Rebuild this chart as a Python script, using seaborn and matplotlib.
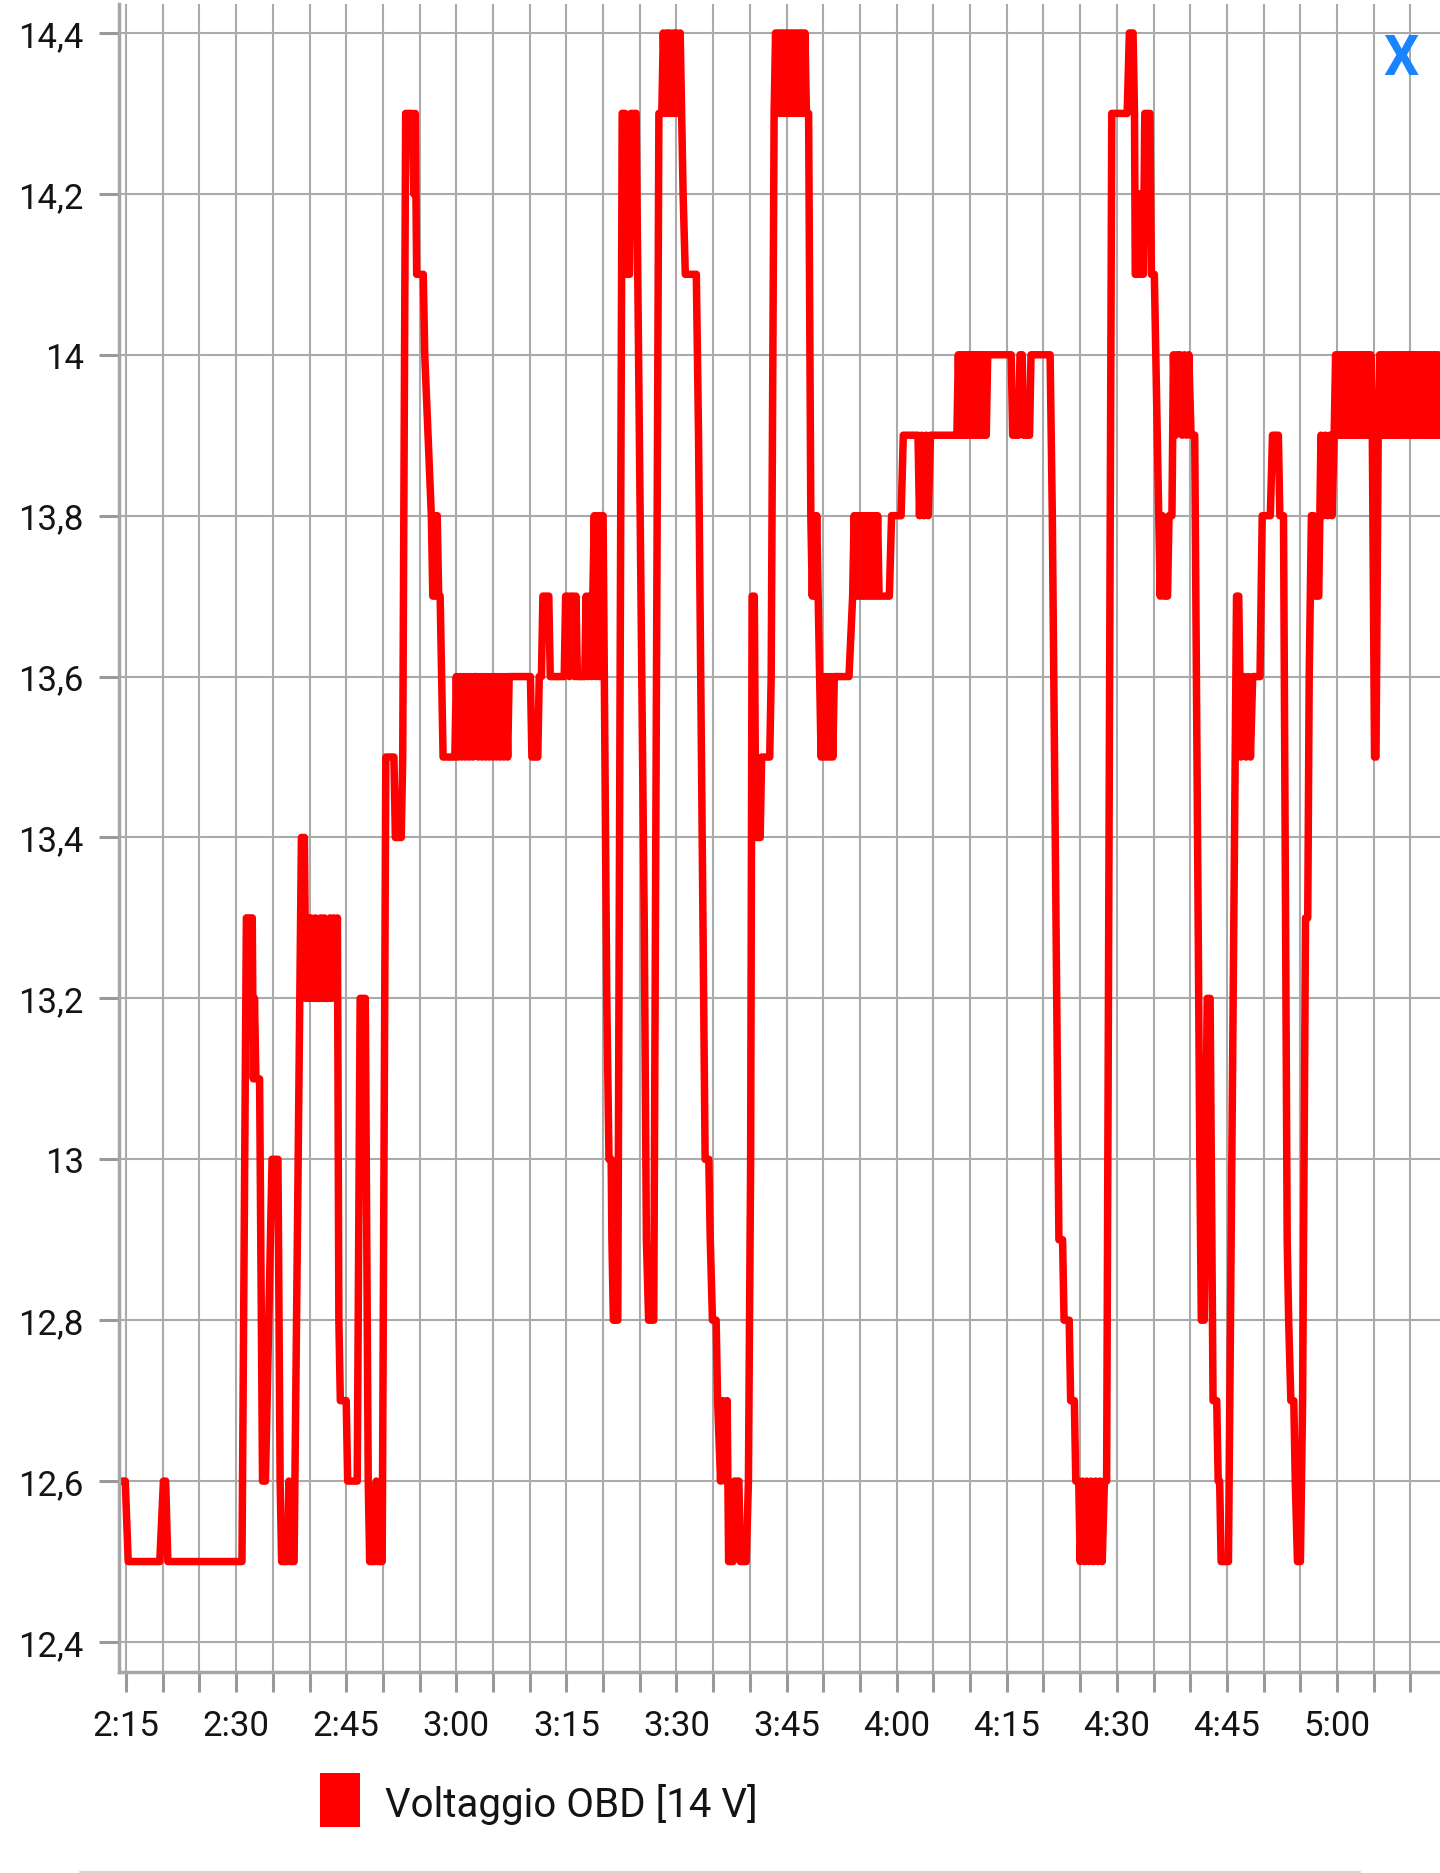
import numpy as np
import pandas as pd
import matplotlib
matplotlib.use("Agg")
import matplotlib.pyplot as plt
import matplotlib.dates as mdates
import matplotlib.ticker as ticker
from matplotlib.patches import Rectangle
import seaborn as sns

# OBD voltage log, minutes after 2:15 and volts
t_a = [-0.6, -0.1, 0.3, 4.6, 5.1, 5.4, 5.7, 15.8]
v_a = [12.6, 12.6, 12.5, 12.5, 12.6, 12.6, 12.5, 12.5]

t_b = [16.4, 17.2, 17.35, 17.5, 17.7, 18.2, 18.6, 19.0, 19.9, 20.7,
       21.0, 21.2, 22.0, 22.2, 22.4, 22.9, 23.9, 24.3, 24.5, 24.8,
       25.0, 25.2, 25.5, 25.8, 26.0, 26.3, 26.5, 26.8, 27.0, 27.2,
       27.5, 27.8, 28.0, 28.3, 28.6, 28.8, 29.0, 29.2, 30.0, 30.2,
       31.5, 31.9, 32.6, 33.0, 33.2, 33.9, 34.1, 34.3, 34.9]
v_b = [13.3, 13.3, 13.1, 13.2, 13.1, 13.1, 12.6, 12.6, 13.0, 13.0,
       12.6, 12.5, 12.5, 12.6, 12.5, 12.5, 13.4, 13.4, 13.2, 13.3,
       13.2, 13.3, 13.2, 13.3, 13.2, 13.2, 13.3, 13.2, 13.3, 13.2,
       13.2, 13.3, 13.2, 13.3, 13.2, 13.3, 12.8, 12.7, 12.7, 12.6,
       12.6, 13.2, 13.2, 12.6, 12.5, 12.5, 12.6, 12.5, 12.5]

t_c = [35.4, 36.5, 36.7, 37.5, 37.7, 38.1, 39.0, 39.2, 39.4, 39.6,
       40.5, 40.7, 41.6, 41.8, 42.0, 42.2, 42.4, 42.6, 42.8, 43.0,
       43.2, 44.8]
v_c = [13.5, 13.5, 13.4, 13.4, 13.5, 14.3, 14.3, 14.2, 14.3, 14.1,
       14.1, 14.0, 13.8, 13.7, 13.8, 13.7, 13.8, 13.7, 13.7, 13.6,
       13.5, 13.5]

t_d = [45.0, 45.25, 45.5, 45.75, 46.0, 46.25, 46.5, 46.75, 47.0, 47.25,
       47.5, 47.75, 48.0, 48.25, 48.5, 48.75, 49.0, 49.25, 49.5, 49.75,
       50.0, 50.25, 50.5, 50.75, 51.0, 51.25, 51.5, 51.75, 52.0, 52.2,
       52.4, 55.1, 55.3, 56.1, 56.3, 56.6, 56.8, 57.6, 57.8, 59.7,
       59.9, 60.2, 60.4, 60.6, 60.9, 61.1, 61.3, 61.5, 62.5, 62.7,
       62.9, 63.1, 63.4, 63.6, 63.8, 64.0, 64.2, 64.5, 64.7, 65.0]
v_d = [13.6, 13.5, 13.6, 13.5, 13.6, 13.5, 13.6, 13.5, 13.6, 13.5,
       13.6, 13.6, 13.5, 13.6, 13.5, 13.6, 13.5, 13.6, 13.5, 13.6,
       13.5, 13.6, 13.5, 13.6, 13.5, 13.6, 13.5, 13.6, 13.5, 13.6,
       13.6, 13.6, 13.5, 13.5, 13.6, 13.6, 13.7, 13.7, 13.6, 13.6,
       13.7, 13.7, 13.6, 13.7, 13.7, 13.6, 13.7, 13.6, 13.6, 13.7,
       13.6, 13.7, 13.6, 13.7, 13.8, 13.6, 13.8, 13.6, 13.8, 13.8]

t_e = [65.5, 65.8, 66.1, 66.2, 66.4, 67.0, 67.6, 68.0, 68.2, 68.6,
       68.8, 69.5, 70.6, 70.9, 71.2, 71.9, 72.6, 73.0, 73.2, 73.5,
       73.7, 73.9, 74.1, 74.3, 74.6, 74.8, 75.0, 75.3, 75.5, 75.7,
       75.9, 76.2, 77.7, 78.0, 78.9, 79.4, 79.6, 79.9, 80.4, 80.6,
       81.0, 81.3, 81.6, 81.9, 82.1, 82.7, 82.9, 83.5, 83.7, 84.5,
       84.8, 85.1, 85.3, 85.6, 85.8, 86.4, 86.6, 87.7, 87.9, 88.3]
v_e = [13.2, 13.0, 13.0, 12.9, 12.8, 12.8, 14.3, 14.3, 14.1, 14.1,
       14.3, 14.3, 13.3, 12.9, 12.8, 12.8, 14.3, 14.3, 14.4, 14.3,
       14.4, 14.3, 14.4, 14.3, 14.4, 14.3, 14.4, 14.3, 14.4, 14.3,
       14.2, 14.1, 14.1, 13.9, 13.0, 13.0, 12.9, 12.8, 12.8, 12.7,
       12.6, 12.7, 12.6, 12.7, 12.5, 12.5, 12.6, 12.6, 12.5, 12.5,
       12.6, 13.0, 13.7, 13.7, 13.4, 13.4, 13.5, 13.5, 13.6, 14.3]

t_f = [88.5, 88.7, 88.9, 89.1, 89.3, 89.5, 89.7, 89.9, 90.1, 90.3,
       90.5, 90.7, 90.9, 91.1, 91.3, 91.5, 91.7, 91.9, 92.1, 92.3,
       92.5, 92.7, 93.0, 93.3, 93.5, 93.7, 93.9, 94.1, 94.3, 94.5,
       94.7, 94.9, 95.1, 95.3, 95.5, 95.7, 95.9, 96.1, 96.3, 96.5,
       98.5, 99.0, 99.2, 99.4, 99.6, 99.8, 100.0, 100.2, 100.4, 100.6,
       100.8, 101.0, 101.2, 101.4, 101.6, 101.8, 102.0, 102.2, 102.4, 102.6,
       104.0, 104.3, 105.6, 105.9, 107.9, 108.1, 108.4, 108.7, 109.0, 109.3,
       109.6]
v_f = [14.4, 14.3, 14.4, 14.3, 14.4, 14.3, 14.4, 14.3, 14.4, 14.3,
       14.4, 14.3, 14.4, 14.3, 14.4, 14.3, 14.4, 14.3, 14.4, 14.3,
       14.4, 14.3, 14.3, 13.8, 13.7, 13.8, 13.7, 13.8, 13.7, 13.6,
       13.5, 13.6, 13.5, 13.6, 13.5, 13.6, 13.5, 13.6, 13.5, 13.6,
       13.6, 13.7, 13.8, 13.7, 13.8, 13.7, 13.8, 13.7, 13.8, 13.7,
       13.8, 13.7, 13.8, 13.7, 13.8, 13.7, 13.8, 13.7, 13.8, 13.7,
       13.7, 13.8, 13.8, 13.9, 13.9, 13.8, 13.9, 13.8, 13.9, 13.8,
       13.9]

t_g = [113.2, 113.4, 113.6, 113.8, 114.0, 114.2, 114.4, 114.6, 114.8, 115.0,
       115.2, 115.4, 115.6, 115.8, 116.0, 116.2, 116.4, 116.6, 116.8, 117.0,
       117.2, 117.4, 120.6, 120.8, 121.6, 121.8, 122.1, 122.3, 123.1, 123.3,
       125.9]
v_g = [13.9, 14.0, 13.9, 14.0, 13.9, 14.0, 13.9, 14.0, 13.9, 14.0,
       13.9, 14.0, 13.9, 14.0, 13.9, 14.0, 13.9, 14.0, 13.9, 14.0,
       13.9, 14.0, 14.0, 13.9, 13.9, 14.0, 14.0, 13.9, 13.9, 14.0,
       14.0]

t_h = [126.2, 127.1, 127.6, 127.8, 128.5, 128.7, 129.2, 129.4, 129.8, 130.0,
       130.3, 130.6, 130.9, 131.2, 131.5, 131.8, 132.1, 132.4, 132.7, 133.0,
       133.3, 133.6, 134.3, 136.4, 136.7, 137.2, 137.4, 137.5, 137.9, 138.0,
       138.2, 138.4, 138.6, 138.8, 139.5, 139.7, 140.1, 140.3, 140.5, 140.7,
       140.9, 141.2, 141.4, 141.9, 142.1, 142.5, 142.7, 143.0, 143.2, 143.6,
       143.9, 144.2, 144.5, 144.8, 145.1, 145.6, 146.3, 146.5, 146.9, 147.3,
       147.7, 148.1, 148.6, 148.8, 149.0, 149.2, 150.2]
v_h = [13.8, 12.9, 12.9, 12.8, 12.8, 12.7, 12.7, 12.6, 12.6, 12.5,
       12.6, 12.5, 12.6, 12.5, 12.6, 12.5, 12.6, 12.5, 12.6, 12.5,
       12.6, 12.6, 14.3, 14.3, 14.4, 14.4, 14.3, 14.1, 14.1, 14.2,
       14.1, 14.2, 14.1, 14.3, 14.3, 14.1, 14.1, 14.0, 13.9, 13.8,
       13.7, 13.8, 13.7, 13.7, 13.8, 13.8, 14.0, 13.9, 14.0, 14.0,
       13.9, 14.0, 13.9, 14.0, 13.9, 13.9, 13.0, 12.8, 12.8, 13.2,
       13.2, 12.7, 12.7, 12.6, 12.6, 12.5, 12.5]

t_i = [151.3, 151.6, 151.9, 152.3, 152.6, 152.9, 153.2, 153.5, 154.5, 154.8,
       155.9, 156.2, 157.0, 157.2, 157.7, 158.2, 158.4, 158.7, 159.1, 159.3,
       159.6, 160.0, 160.3, 160.7, 161.0, 161.2, 161.5, 161.8, 162.0, 162.5,
       162.8, 163.1, 163.4, 163.7, 164.0, 164.3, 164.6, 164.8, 165.0, 165.2,
       165.4, 165.6, 165.8, 166.0, 166.2, 166.4, 166.6, 166.8, 167.0, 167.2,
       167.4, 167.6, 167.8, 168.0, 168.2, 168.4, 168.6, 168.8, 169.0, 169.2,
       169.4, 169.6, 169.8, 170.1, 170.3, 170.6, 170.8, 171.0, 171.2, 171.4,
       171.6, 171.8, 172.0, 172.2, 172.4, 172.6, 172.8, 173.0, 173.2, 173.4,
       173.6, 173.8, 174.0, 174.2, 174.4, 174.6, 174.8, 175.0, 175.2, 175.4,
       175.6, 175.8, 176.0, 176.2, 176.4, 176.6, 176.8, 177.0, 177.2, 177.4,
       177.6, 177.8, 178.0, 178.2, 178.4, 178.6, 178.8, 179.0, 179.2]
v_i = [13.7, 13.7, 13.5, 13.6, 13.5, 13.6, 13.5, 13.6, 13.6, 13.8,
       13.8, 13.9, 13.9, 13.8, 13.8, 12.9, 12.8, 12.7, 12.7, 12.6,
       12.5, 12.5, 12.7, 13.3, 13.3, 13.6, 13.8, 13.8, 13.7, 13.7,
       13.9, 13.8, 13.9, 13.8, 13.9, 13.8, 13.9, 14.0, 13.9, 14.0,
       13.9, 14.0, 13.9, 14.0, 13.9, 14.0, 13.9, 14.0, 13.9, 14.0,
       13.9, 14.0, 13.9, 14.0, 13.9, 14.0, 13.9, 14.0, 13.9, 14.0,
       13.9, 14.0, 13.9, 13.5, 13.5, 13.9, 14.0, 13.9, 14.0, 13.9,
       14.0, 13.9, 14.0, 13.9, 14.0, 13.9, 14.0, 13.9, 14.0, 13.9,
       14.0, 13.9, 14.0, 13.9, 14.0, 13.9, 14.0, 13.9, 14.0, 13.9,
       14.0, 13.9, 14.0, 13.9, 14.0, 13.9, 14.0, 13.9, 14.0, 13.9,
       14.0, 13.9, 14.0, 13.9, 14.0, 13.9, 14.0, 13.9, 14.0]

volt_ticks = [12.4, 12.6, 12.8, 13.0, 13.2, 13.4, 13.6, 13.8, 14.0, 14.2, 14.4]
series_label = "Voltaggio OBD [14 V]"

minutes = t_a + t_b + t_c + t_d + t_e + t_f + t_g + t_h + t_i
volts = v_a + v_b + v_c + v_d + v_e + v_f + v_g + v_h + v_i
assert len(minutes) == len(volts), (len(minutes), len(volts))

base = pd.Timestamp("2023-01-01 02:15:00")
df = pd.DataFrame({"time": base + pd.to_timedelta(minutes, unit="min"),
                   "volt": volts})

sns.set_theme(style="white")
plt.rcParams["font.family"] = ["Roboto", "DejaVu Sans"]

fig = plt.figure(figsize=(14.4, 18.74), dpi=100)
ax = fig.add_axes([119 / 1440, 1 - 1673 / 1874, 1 - 119 / 1440, 1668 / 1874])

sns.lineplot(data=df, x="time", y="volt", ax=ax, color="#ff0000",
             linewidth=5.4, estimator=None, sort=False, legend=False)

ax.set_xlim(base + pd.Timedelta(minutes=-0.954), base + pd.Timedelta(minutes=179.02))
ax.set_ylim(12.3627, 14.436)

# axis ticks: every 5 minutes, labels every quarter hour
ax.xaxis.set_major_locator(mdates.MinuteLocator(byminute=range(0, 60, 5)))


def fmt_time(x, pos):
    d = mdates.num2date(x)
    if d.minute % 15:
        return ""
    return f"{d.hour}:{d.minute:02d}"


def fmt_volt(v, pos):
    if abs(v - round(v)) < 1e-6:
        return str(int(round(v)))
    return f"{v:.1f}".replace(".", ",")


ax.xaxis.set_major_formatter(ticker.FuncFormatter(fmt_time))
ax.yaxis.set_major_locator(ticker.FixedLocator(volt_ticks))
ax.yaxis.set_major_formatter(ticker.FuncFormatter(fmt_volt))

ax.grid(True, color="#aaaaaa", linewidth=1.5)
ax.set_axisbelow(True)
for side in ["top", "right"]:
    ax.spines[side].set_visible(False)
for side in ["left", "bottom"]:
    ax.spines[side].set_color("#a6a6a6")
    ax.spines[side].set_linewidth(2.5)

ax.tick_params(axis="both", which="major", bottom=True, left=True, direction="out",
               length=14.5, width=2.2, color="#999999", labelsize=25, labelcolor="#141414")
ax.tick_params(axis="x", pad=12)
ax.tick_params(axis="y", pad=11)
ax.set_xlabel("")
ax.set_ylabel("")

# legend swatch and label under the axis
fig.add_artist(Rectangle((320 / 1440, 1 - 1828 / 1874), 40 / 1440, 54 / 1874,
                         transform=fig.transFigure, facecolor="#ff0000", edgecolor="none"))
fig.text(385 / 1440, 1 - 1817 / 1874, series_label, fontsize=29, color="#141414",
         ha="left", va="baseline")

# close button and bottom divider of the app screen
fig.text(1401 / 1440, 1 - 60 / 1874, "X", color="#1a84ff", fontsize=40,
         fontweight="bold", ha="center", va="center")
fig.add_artist(plt.Line2D([80 / 1440, 1360 / 1440], [0.6 / 1874, 0.6 / 1874],
                          transform=fig.transFigure, color="#d6d6d6", linewidth=1.5))

fig.savefig("out.png", dpi=100)
